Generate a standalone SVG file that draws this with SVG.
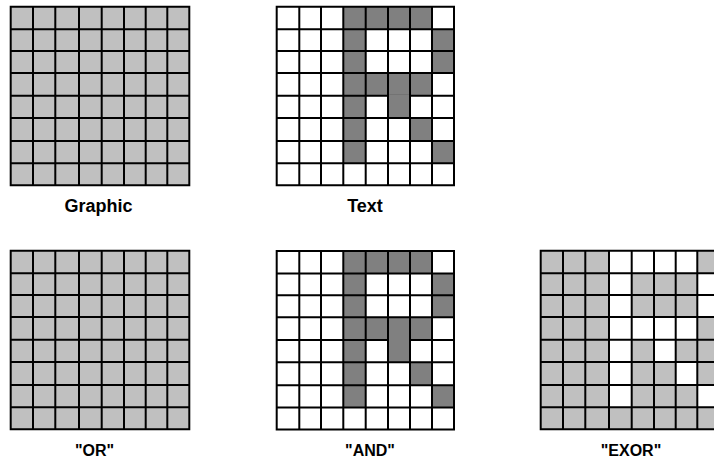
<svg xmlns="http://www.w3.org/2000/svg" xmlns:xlink="http://www.w3.org/1999/xlink" width="714" height="462" viewBox="0 0 714 462">
  <style>
    .grid { fill: none; stroke: #000; stroke-width: 2; stroke-linecap: square; }
    .gray { fill: #c0c0c0; }
    .white { fill: #ffffff; }
    .dark { fill: #808080; }
    .lbl { font-family: "Liberation Sans", Arial, sans-serif; font-weight: bold; fill: #000; text-anchor: middle; }
    .top { font-size: 18px; }
    .bot { font-size: 16px; }
  </style>
  <defs>
    <!-- grid lines, graphic-style grid -->
    <path id="gridG" class="grid" d="M10.7 6.7V185.3M33 6.7V185.3M55.3 6.7V185.3M79 6.7V185.3M101.7 6.7V185.3M124 6.7V185.3M145.7 6.7V185.3M167.3 6.7V185.3M189.3 6.7V185.3M10.7 6.7H189.3M10.7 29.3H189.3M10.7 51H189.3M10.7 73H189.3M10.7 95.7H189.3M10.7 118H189.3M10.7 141H189.3M10.7 163.3H189.3M10.7 185.3H189.3"/>
    <!-- grid lines, text-style grid -->
    <path id="gridT" class="grid" d="M276.7 6.7V185.3M299.3 6.7V185.3M321 6.7V185.3M343.3 6.7V185.3M365.7 6.7V185.3M388 6.7V185.3M410 6.7V185.3M432 6.7V185.3M454 6.7V185.3M276.7 6.7H454M276.7 29.3H454M276.7 51H454M276.7 73H454M276.7 95.7H454M276.7 118H454M276.7 141H454M276.7 163.3H454M276.7 185.3H454"/>
    <!-- letter R cells in text grid coordinates -->
    <g id="cellsT">
      <rect x="343.3" y="6.7" width="22.4" height="156.6"/>
      <rect x="365.7" y="6.7" width="66.3" height="22.6"/>
      <rect x="432" y="29.3" width="22" height="43.7"/>
      <rect x="365.7" y="73" width="66.3" height="22.7"/>
      <rect x="388" y="95.7" width="22" height="22.3"/>
      <rect x="410" y="118" width="22" height="23"/>
      <rect x="432" y="141" width="22" height="22.3"/>
    </g>
    <!-- letter R cells in graphic grid coordinates -->
    <g id="cellsG">
      <rect x="79" y="6.7" width="22.7" height="156.6"/>
      <rect x="101.7" y="6.7" width="65.6" height="22.6"/>
      <rect x="167.3" y="29.3" width="22" height="43.7"/>
      <rect x="101.7" y="73" width="65.6" height="22.7"/>
      <rect x="124" y="95.7" width="21.7" height="22.3"/>
      <rect x="145.7" y="118" width="21.6" height="23"/>
      <rect x="167.3" y="141" width="22" height="22.3"/>
    </g>
  </defs>

  <g id="graphic">
    <rect class="gray" x="10.7" y="6.7" width="178.6" height="178.6"/>
    <use xlink:href="#gridG" href="#gridG"/>
    <text class="lbl top" x="98.5" y="211.7">Graphic</text>
  </g>

  <g id="text">
    <rect class="white" x="276.7" y="6.7" width="177.3" height="178.6"/>
    <use class="dark" xlink:href="#cellsT" href="#cellsT"/>
    <use xlink:href="#gridT" href="#gridT"/>
    <rect class="dark" x="389" y="94.4" width="20" height="2.6"/>
    <text class="lbl top" x="365" y="211.7">Text</text>
  </g>

  <g id="or">
    <g transform="translate(0,244)">
      <rect class="gray" x="10.7" y="6.7" width="178.6" height="178.6"/>
      <use xlink:href="#gridG" href="#gridG"/>
    </g>
    <text class="lbl bot" x="94.5" y="456">"OR"</text>
  </g>

  <g id="and">
    <g transform="translate(0,244.3)">
      <rect class="white" x="276.7" y="6.7" width="177.3" height="178.6"/>
      <use class="dark" xlink:href="#cellsT" href="#cellsT"/>
      <use xlink:href="#gridT" href="#gridT"/>
      <rect class="dark" x="389" y="94.4" width="20" height="2.6"/>
    </g>
    <text class="lbl bot" x="370" y="456">"AND"</text>
  </g>

  <g id="exor">
    <g transform="translate(530,244)">
      <rect class="gray" x="10.7" y="6.7" width="178.6" height="178.6"/>
      <use class="white" xlink:href="#cellsG" href="#cellsG"/>
      <use xlink:href="#gridG" href="#gridG"/>
    </g>
    <text class="lbl bot" x="631" y="456">"EXOR"</text>
  </g>
</svg>
